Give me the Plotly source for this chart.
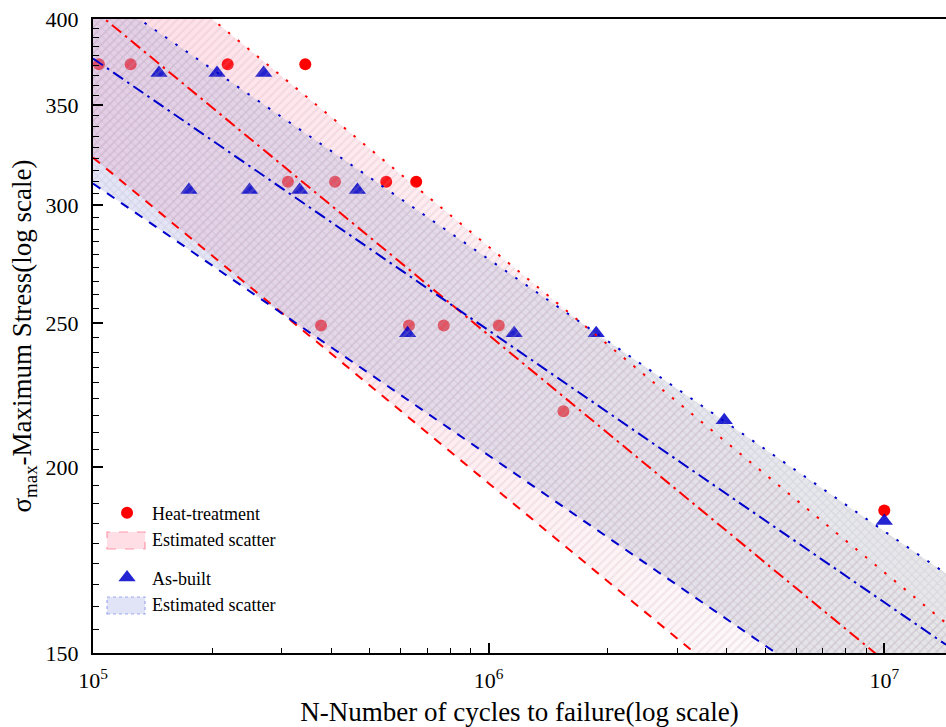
import numpy as np
import plotly.graph_objects as go

# Heat-treated specimens: cycles to failure and maximum stress (MPa)
ht_cycles = [1.035e5, 1.245e5, 2.19e5, 3.44e5,
             3.11e5, 4.09e5, 5.51e5, 6.56e5,
             3.77e5, 6.29e5, 7.70e5, 1.061e6,
             1.545e6, 1.0e7]
ht_stress = [373, 373, 373, 373,
             311, 311, 311, 311,
             249, 249, 249, 249,
             218, 187]

# As-built specimens
ab_cycles = [1.468e5, 2.058e5, 2.70e5,
             1.748e5, 2.487e5, 3.33e5, 4.66e5,
             6.24e5, 1.16e6, 1.87e6,
             3.94e6, 1.0e7]
ab_stress = [368, 368, 368,
             307, 307, 307, 307,
             246, 246, 246,
             215, 184]

# Basquin-type fits  S = S_ref * (N / N_ref)^b  (S_ref given at N_ref = 1e5 cycles)
fit_ref_cycles = 1e5
ht_fit_exponent = -0.2188
ht_fit_upper, ht_fit_mean, ht_fit_lower = 465.5, 406.0, 322.8
ab_fit_exponent = -0.1827
ab_fit_upper, ab_fit_mean, ab_fit_lower = 420.1, 376.3, 310.1

# Axes
x_range_log = [5.0, 7.156]
y_range = [150, 400]
x_tick_vals = [1e5, 1e6, 1e7]
x_tick_text = ["10<sup>5</sup>", "10<sup>6</sup>", "10<sup>7</sup>"]
y_tick_vals = [150, 200, 250, 300, 350, 400]

FONT = "Liberation Serif"
RED = "#ff0000"
BLUE = "#0000cc"


def basquin(s_ref, b, n):
    return s_ref * (np.asarray(n) / fit_ref_cycles) ** b


n_ends = np.array([10 ** x_range_log[0], 10 ** x_range_log[1]])

x_minor = [k * 10 ** d for d in range(5, 8) for k in range(2, 10)
           if k * 10 ** d <= 10 ** x_range_log[1]]
y_minor = [lo + (hi - lo) * k / 9 for lo, hi in zip(y_tick_vals[:-1], y_tick_vals[1:])
           for k in range(1, 9)]


def band(s_up, s_lo, b):
    xs = list(n_ends) + list(n_ends[::-1])
    ys = list(basquin(s_up, b, n_ends)) + list(basquin(s_lo, b, n_ends[::-1]))
    return xs, ys


def gradient_fill(s_up, s_lo, b, cscale):
    xs, ys = band(s_up, s_lo, b)
    return go.Scatter(
        x=xs, y=ys, mode="lines", fill="toself", line=dict(width=0),
        fillgradient=dict(type="horizontal", colorscale=cscale),
        showlegend=False, hoverinfo="skip")


def hatch_fill(s_up, s_lo, b, shape, fg):
    xs, ys = band(s_up, s_lo, b)
    return go.Scatter(
        x=xs, y=ys, mode="lines", fill="toself", line=dict(width=0),
        fillcolor="rgba(0,0,0,0)",
        fillpattern=dict(shape=shape, fgcolor=fg, bgcolor="rgba(0,0,0,0)",
                         fgopacity=0.18, size=6, solidity=0.35),
        showlegend=False, hoverinfo="skip")


ht_band_scale = [[0, "rgba(255,90,130,0.21)"], [0.5, "rgba(245,150,175,0.14)"],
                 [1, "rgba(220,214,218,0.07)"]]
ab_band_scale = [[0, "rgba(178,180,232,0.35)"], [1, "rgba(196,196,202,0.40)"]]

fig = go.Figure()

# Heat-treatment markers sit under the tinted bands
fig.add_trace(go.Scatter(
    x=ht_cycles, y=ht_stress, mode="markers", name="Heat-treatment",
    marker=dict(symbol="circle", size=12, color=RED, line=dict(width=0)),
    legendgroup="ht", legendrank=1))

fig.add_trace(gradient_fill(ht_fit_upper, ht_fit_lower, ht_fit_exponent, ht_band_scale))
fig.add_trace(gradient_fill(ab_fit_upper, ab_fit_lower, ab_fit_exponent, ab_band_scale))

# As-built markers sit above the tint but under the hatching
fig.add_trace(go.Scatter(
    x=ab_cycles, y=ab_stress, mode="markers", name="As-built",
    marker=dict(symbol="triangle-up", size=15, color=BLUE, opacity=0.86, line=dict(width=0)),
    legendgroup="ab", legendrank=3))

fig.add_trace(hatch_fill(ht_fit_upper, ht_fit_lower, ht_fit_exponent, "/", "rgba(190,150,165,1)"))
fig.add_trace(hatch_fill(ab_fit_upper, ab_fit_lower, ab_fit_exponent, "x", "rgba(140,140,165,1)"))

# Fit lines: mean (dash-dot), upper bound (dotted), lower bound (dashed)
DOT = "2.5px,10px"
DASH = "9px,8px"
DASHDOT = "12px,5px,2.5px,5px"
for s_ref, b, color, dash in [
        (ht_fit_upper, ht_fit_exponent, RED, DOT),
        (ht_fit_mean, ht_fit_exponent, RED, DASHDOT),
        (ht_fit_lower, ht_fit_exponent, RED, DASH),
        (ab_fit_upper, ab_fit_exponent, BLUE, DOT),
        (ab_fit_mean, ab_fit_exponent, BLUE, DASHDOT),
        (ab_fit_lower, ab_fit_exponent, BLUE, DASH)]:
    fig.add_trace(go.Scatter(
        x=n_ends, y=basquin(s_ref, b, n_ends), mode="lines",
        line=dict(color=color, width=2, dash=dash),
        showlegend=False, hoverinfo="skip"))

# Legend entries for the scatter bands (swatches drawn as shapes below)
for grp, rank in [("ht", 2), ("ab", 4)]:
    fig.add_trace(go.Scatter(
        x=[None], y=[None], mode="lines", name="Estimated scatter",
        line=dict(width=0, color="rgba(0,0,0,0)"),
        legendgroup=grp, legendrank=rank))


def px_to_paper(x0, x1, y0, y1):
    return dict(x0=(x0 - 93) / 853, x1=(x1 - 93) / 853,
                y0=(653 - y1) / 634, y1=(653 - y0) / 634)


swatches = [
    (px_to_paper(107, 145, 532, 549), "rgba(255,200,214,0.6)", "rgba(255,130,150,0.8)", "dash"),
    (px_to_paper(107, 145, 597, 614), "rgba(205,210,240,0.6)", "rgba(140,150,235,0.8)", "dot"),
]
shapes = []
for pos, fill, edge, dash in swatches:
    shapes.append(dict(type="rect", xref="paper", yref="paper", **pos,
                       fillcolor=fill, line=dict(color=edge, width=1.2, dash=dash),
                       layer="above"))

axis_common = dict(
    type="log", showline=True, linecolor="black", linewidth=2,
    ticks="inside", tickcolor="black", tickwidth=1.5, ticklen=10,
    showgrid=False, zeroline=False,
    tickfont=dict(family=FONT, size=22, color="black"),
)

fig.update_layout(
    width=946, height=727,
    margin=dict(l=93, r=0, t=19, b=74),
    paper_bgcolor="white", plot_bgcolor="white",
    font=dict(family=FONT, color="black"),
    shapes=shapes,
    xaxis=dict(
        **axis_common, mirror=True,
        range=x_range_log, tickmode="array", tickvals=x_tick_vals, ticktext=x_tick_text,
        ticklabelstandoff=7,
        minor=dict(tickmode="array", tickvals=x_minor, ticks="inside", ticklen=5,
                   tickwidth=1.2, tickcolor="black", showgrid=False),
        title=dict(text="N-Number of cycles to failure(log scale)",
                   font=dict(family=FONT, size=27, color="black"), standoff=16),
    ),
    yaxis=dict(
        **axis_common, mirror=False,
        range=[np.log10(y_range[0]), np.log10(y_range[1])],
        tickmode="array", tickvals=y_tick_vals, ticktext=[str(v) for v in y_tick_vals],
        ticklabelstandoff=8,
        minor=dict(tickmode="array", tickvals=y_minor, ticks="inside", ticklen=6,
                   tickwidth=1.2, tickcolor="black", showgrid=False),
        title=dict(text="σ<sub>max</sub>-Maximum Stress(log scale)",
                   font=dict(family=FONT, size=27, color="black"), standoff=6),
    ),
    legend=dict(
        x=0.0106, y=0.25, xanchor="left", yanchor="top",
        bgcolor="rgba(0,0,0,0)", borderwidth=0,
        font=dict(family=FONT, size=18, color="black"),
        traceorder="grouped", tracegroupgap=12, itemwidth=40,
    ),
    showlegend=True,
)

fig.write_html("out.html")
